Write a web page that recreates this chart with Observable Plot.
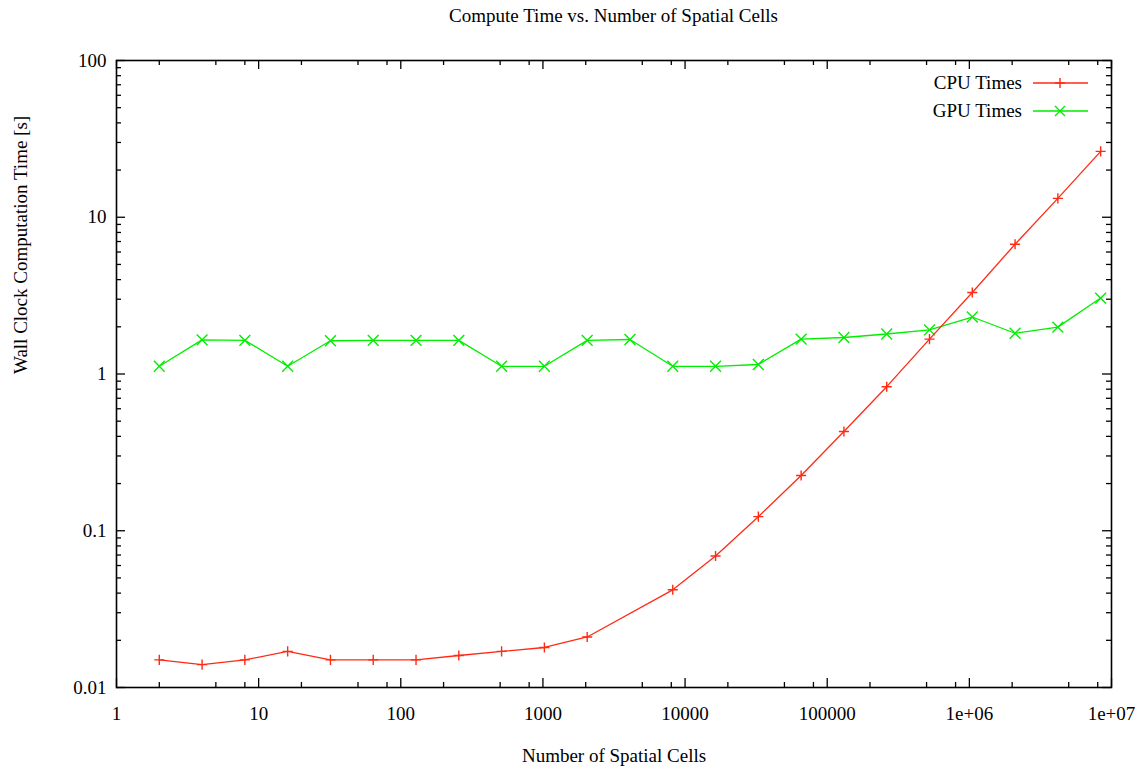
<!DOCTYPE html>
<html><head><meta charset="utf-8">
<script src="https://cdn.jsdelivr.net/npm/d3@7"></script>
<script src="https://cdn.jsdelivr.net/npm/@observablehq/plot@0.6"></script>
<style>
body{margin:0;background:#fff;font-family:"Liberation Serif","Times New Roman",serif;}
#wrap{position:relative;width:1141px;height:769px;overflow:hidden;}
#title{height:30px;line-height:32px;font-size:19px;text-align:center;padding:0 30px 0 116px;color:#000;}
#chart svg{display:block;}
#legend{position:absolute;left:880px;top:70px;width:220px;font-size:19px;}
.row{position:relative;height:28px;}
.row span{position:absolute;right:78px;top:0;line-height:26px;}
.row svg{position:absolute;left:153px;top:0;}
</style></head><body>
<div id="wrap">
<div id="title">Compute Time vs. Number of Spatial Cells</div>
<div id="chart"></div>
<div id="legend"></div>
</div>
<script>
const cells = [2,4,8,16,32,64,128,256,512,1024,2048,4096,8192,16384,32768,65536,131072,262144,524288,1048576,2097152,4194304,8388608];
const cpuTimes = [0.015,0.014,0.015,0.017,0.015,0.015,0.015,0.016,0.017,0.018,0.021,null,0.042,0.069,0.123,0.225,0.43,0.83,1.67,3.31,6.73,13.2,26.3];
const gpuTimes = [1.12,1.65,1.64,1.12,1.63,1.64,1.64,1.64,1.12,1.12,1.64,1.66,1.12,1.12,1.15,1.67,1.71,1.80,1.91,2.31,1.82,1.99,3.05];
const seriesNames = ["CPU Times","GPU Times"];
const xMajorTicks = [1,10,100,1000,10000,100000,1000000,10000000];
const xTickLabels = ["1","10","100","1000","10000","100000","1e+06","1e+07"];
const xMinorTicks = [2,5,8,20,50,80,200,500,800,2000,5000,8000,20000,50000,80000,200000,500000,800000,2000000,5000000,8000000];
const yMajorTicks = [0.01,0.1,1,10,100];
const yTickLabels = ["0.01","0.1","1","10","100"];
const yMinorTicks = [0.02,0.03,0.04,0.05,0.06,0.07,0.08,0.09,0.2,0.3,0.4,0.5,0.6,0.7,0.8,0.9,2,3,4,5,6,7,8,9,20,30,40,50,60,70,80,90];
const titleText = "Compute Time vs. Number of Spatial Cells";
const xTitle = "Number of Spatial Cells";
const yTitle = "Wall Clock Computation Time [s]";

const cpuColor = "#ff2a14";
const gpuColor = "#00ee00";
const W = 1141, H = 739, mT = 30, mB = 82, mL = 116, mR = 30;
const innerH = H - mT - mB, innerW = W - mL - mR;
const maj = 9, mnr = 5;

const cpu = cells.map((c, i) => ({x: c, y: cpuTimes[i]})).filter(d => d.y != null);
const gpu = cells.map((c, i) => ({x: c, y: gpuTimes[i]}));
const xLab = new Map(xMajorTicks.map((d, i) => [d, xTickLabels[i]]));
const yLab = new Map(yMajorTicks.map((d, i) => [d, yTickLabels[i]]));
const tk = {stroke: "#000", strokeWidth: 1.3};

const chart = Plot.plot({
  width: W, height: H, marginTop: mT, marginBottom: mB, marginLeft: mL, marginRight: mR,
  style: {fontFamily: '"Liberation Serif", "Times New Roman", serif', fontSize: "19px", background: "#fff", color: "#000"},
  x: {type: "log", domain: [1, 1e7]},
  y: {type: "log", domain: [0.01, 100]},
  marks: [
    Plot.tickX(xMajorTicks, {x: d => d, insetTop: innerH - maj, ...tk}),
    Plot.tickX(xMajorTicks, {x: d => d, insetBottom: innerH - maj, ...tk}),
    Plot.tickX(xMinorTicks, {x: d => d, insetTop: innerH - mnr, ...tk}),
    Plot.tickX(xMinorTicks, {x: d => d, insetBottom: innerH - mnr, ...tk}),
    Plot.tickY(yMajorTicks, {y: d => d, insetRight: innerW - maj, ...tk}),
    Plot.tickY(yMajorTicks, {y: d => d, insetLeft: innerW - maj, ...tk}),
    Plot.tickY(yMinorTicks, {y: d => d, insetRight: innerW - mnr, ...tk}),
    Plot.tickY(yMinorTicks, {y: d => d, insetLeft: innerW - mnr, ...tk}),
    Plot.axisX(xMajorTicks, {tickSize: 0, tickPadding: 19, tickFormat: d => xLab.get(d), label: null}),
    Plot.axisY(yMajorTicks, {tickSize: 0, tickPadding: 10, tickFormat: d => yLab.get(d), label: null}),
    Plot.text([yTitle], {frameAnchor: "left", rotate: -90, dx: -96, text: d => d, fill: "#000"}),
    Plot.text([xTitle], {frameAnchor: "bottom", dy: 74, text: d => d, fill: "#000"}),
    Plot.line(gpu, {x: "x", y: "y", stroke: gpuColor, strokeWidth: 1.3}),
    Plot.dot(gpu, {x: "x", y: "y", symbol: "times", r: 5, stroke: gpuColor, strokeWidth: 1.4}),
    Plot.line(cpu, {x: "x", y: "y", stroke: cpuColor, strokeWidth: 1.3}),
    Plot.dot(cpu, {x: "x", y: "y", symbol: "plus", r: 3.35, stroke: cpuColor, strokeWidth: 1.4}),
    Plot.frame({stroke: "#000", strokeWidth: 1.6})
  ]
});
document.getElementById("chart").appendChild(chart);

const legend = document.getElementById("legend");
const colors = [cpuColor, gpuColor];
seriesNames.forEach((name, i) => {
  const row = document.createElement("div");
  row.className = "row";
  const sp = document.createElement("span");
  sp.textContent = name;
  row.appendChild(sp);
  const mark = i === 0
    ? `<path d="M27,8V18M22,13H32" stroke="${colors[i]}" stroke-width="1.4"/>`
    : `<path d="M22,8L32,18M22,18L32,8" stroke="${colors[i]}" stroke-width="1.4"/>`;
  row.insertAdjacentHTML("beforeend",
    `<svg width="60" height="26"><line x1="0" x2="55" y1="13" y2="13" stroke="${colors[i]}" stroke-width="1.3"/>${mark}</svg>`);
  legend.appendChild(row);
});
</script>
</body></html>
